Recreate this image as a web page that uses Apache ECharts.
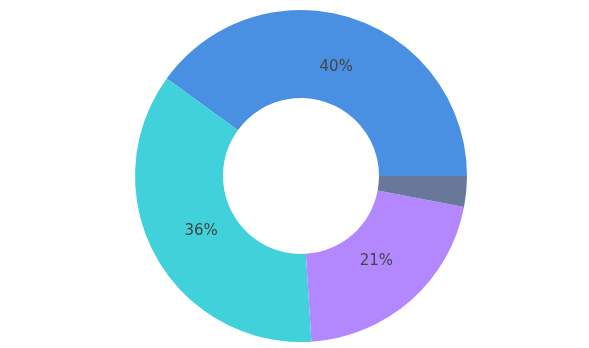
<!DOCTYPE html>
<html><head><meta charset="utf-8">
<script src="https://cdn.jsdelivr.net/npm/echarts@6/dist/echarts.min.js"></script>
<style>html,body{margin:0;padding:0;background:#fff}#c{width:589px;height:348px}</style>
</head><body><div id="c"></div>
<script>
const categories = ['A', 'B', 'C', 'D'];
const values = [40, 36, 21, 3];
const colors = ['#4A90E2', '#41D1DA', '#B388FF', '#67789B'];

const data = categories.map((n, i) => ({ name: n, value: values[i], itemStyle: { color: colors[i] } }));
const chart = echarts.init(document.getElementById('c'));
chart.setOption({
  animation: false,
  series: [
    {
      type: 'pie', center: [301, 176], radius: [78, 166],
      startAngle: 0, clockwise: false, silent: true,
      label: { show: false }, labelLine: { show: false },
      data: data
    },
    {
      type: 'pie', center: [301, 176], radius: [78, 144],
      startAngle: 0, clockwise: false, silent: true,
      minShowLabelAngle: 15,
      itemStyle: { color: 'rgba(0,0,0,0)' },
      label: { show: true, position: 'inside', formatter: p => Math.round(p.percent) + '%', color: '#444', fontSize: 15, fontFamily: 'DejaVu Sans' },
      labelLine: { show: false },
      data: categories.map((n, i) => ({ name: n, value: values[i] }))
    }
  ]
});
</script></body></html>
